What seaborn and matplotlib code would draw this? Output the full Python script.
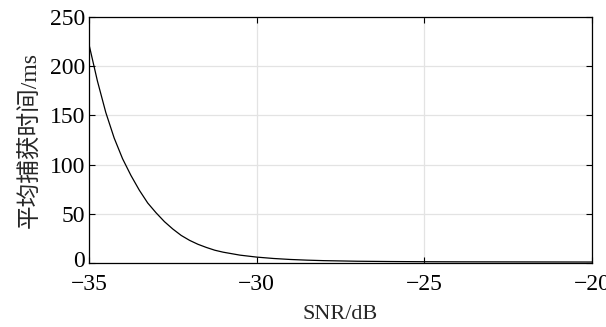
import matplotlib
matplotlib.use("Agg")
import matplotlib.pyplot as plt
import matplotlib.transforms as mtransforms
import seaborn as sns
import pandas as pd

snr_db = [-35, -34.75, -34.5, -34.25, -34, -33.75, -33.5, -33.25, -33, -32.75,
          -32.5, -32.25, -32, -31.75, -31.5, -31.25, -31, -30.5, -30, -29.5,
          -29, -28.5, -28, -27, -26, -25, -24, -22, -20]
acq_time_ms = [222, 185, 153, 127, 106, 89, 74, 61, 51, 42,
               34.5, 28, 23, 19, 15.8, 13, 11, 8, 6, 4.6,
               3.6, 2.9, 2.4, 1.8, 1.5, 1.3, 1.2, 1.1, 1.0]
x_ticks = [-35, -30, -25, -20]
y_ticks = [0, 50, 100, 150, 200, 250]
x_label = "SNR/dB"
y_label = "平均捕获时间/ms"

df = pd.DataFrame({"snr": snr_db, "t": acq_time_ms})

sns.set_theme(style="white")
plt.rcParams['font.family'] = ['Liberation Serif', 'Noto Sans CJK SC']
plt.rcParams['axes.unicode_minus'] = True

fig = plt.figure(figsize=(6.06, 3.27), dpi=100)
ax = fig.add_axes([0.1469, 0.1957, 0.8300, 0.7523])

sns.lineplot(data=df, x="snr", y="t", ax=ax, color="black", linewidth=0.9)

ax.set_xlim(-35, -20)
ax.set_ylim(0, 250)
ax.set_xticks(x_ticks)
ax.set_yticks(y_ticks)
ax.set_xticklabels([f"\u2212{abs(v)}" for v in x_ticks])
ax.grid(True, color="#e3e3e3", linewidth=0.9)
ax.set_axisbelow(True)
for s in ax.spines.values():
    s.set_color("black")
    s.set_linewidth(0.9)
ax.tick_params(direction="in", length=4, width=0.8, colors="black",
               labelsize=17, top=True, right=True, bottom=True, left=True)
ax.tick_params(axis="x", pad=8)
ax.tick_params(axis="y", pad=3)
ylabels = ax.get_yticklabels()
for lbl in ylabels:
    lbl.set_verticalalignment("center_baseline")
# lift the "0" label a little, as in the reference
ylabels[0].set_transform(ylabels[0].get_transform() +
                         mtransforms.ScaledTranslation(0, 4 / 100, fig.dpi_scale_trans))
ax.set_xlabel(x_label, fontsize=16, labelpad=7)
ax.set_ylabel(y_label, fontsize=17, labelpad=6,
              family=['Liberation Serif', 'Noto Sans CJK SC'])

fig.savefig("out.png", dpi=100)
